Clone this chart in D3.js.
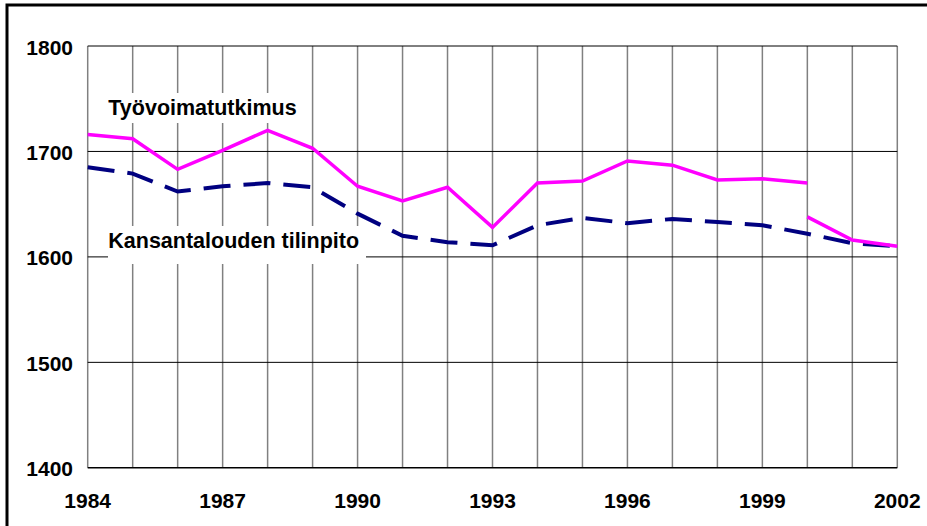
<!DOCTYPE html>
<html>
<head>
<meta charset="utf-8">
<script src="https://cdn.jsdelivr.net/npm/d3@7"></script>
<style>
  body { margin: 0; background: #fff; }
  svg text { font-family: Arial, "Liberation Sans", sans-serif; font-weight: bold; fill: #000; }
</style>
</head>
<body>
<div class="chart"></div>
<script>
let width = 927;
let height = 526;

// data
let years = d3.range(1984, 2003);
let yearTicks = [1984, 1987, 1990, 1993, 1996, 1999, 2002];
let valueTicks = [1400, 1500, 1600, 1700, 1800];
// Työvoimatutkimus, old series 1984-2000
let tyoYears = d3.range(1984, 2001);
let tyoValues = [1716, 1712, 1683, 1701, 1720, 1703, 1667, 1653, 1666, 1628, 1670, 1672, 1691, 1687, 1673, 1674, 1670];
// Työvoimatutkimus, new series 2000-2002
let tyoNewYears = [2000, 2001, 2002];
let tyoNewValues = [1638, 1616, 1610];
// Kansantalouden tilinpito 1984-2002
let ktValues = [1685, 1679, 1662, 1667, 1670, 1666, 1641, 1620, 1614, 1611, 1630, 1637, 1632, 1636, 1633, 1630, 1622, 1613, 1610];

let svg = d3.select('.chart')
  .append('svg')
  .attr('width', width)
  .attr('height', height);

// outer frame
svg.append('rect')
  .attr('x', 7)
  .attr('y', 5)
  .attr('width', 960)
  .attr('height', 560)
  .attr('fill', 'none')
  .attr('stroke', '#000')
  .attr('stroke-width', 3);

let xScale = d3.scaleLinear()
  .domain([1984, 2002])
  .range([87.7, 897.3]);
let yScale = d3.scaleLinear()
  .domain([1400, 1800])
  .range([467.8, 46]);

// vertical grid (gray)
svg.append('g')
  .selectAll('line')
  .data(years)
  .enter()
  .append('line')
  .attr('x1', d => xScale(d))
  .attr('x2', d => xScale(d))
  .attr('y1', yScale(1800))
  .attr('y2', yScale(1400))
  .attr('stroke', '#808080')
  .attr('stroke-width', 1.5);

// horizontal grid (black)
svg.append('g')
  .selectAll('line')
  .data(valueTicks)
  .enter()
  .append('line')
  .attr('x1', xScale(1984))
  .attr('x2', xScale(2002))
  .attr('y1', d => yScale(d))
  .attr('y2', d => yScale(d))
  .attr('stroke', '#000')
  .attr('stroke-width', d => d == 1400 ? 1.5 : 1);

// label boxes
svg.append('rect').attr('x', 100).attr('y', 93).attr('width', 206).attr('height', 30).attr('fill', '#fff');
svg.append('rect').attr('x', 108).attr('y', 226).attr('width', 258).attr('height', 38).attr('fill', '#fff');

let line = d3.line()
  .x(d => xScale(d[0]))
  .y(d => yScale(d[1]));

svg.append('path')
  .datum(years.map((y, i) => [y, ktValues[i]]))
  .attr('d', line)
  .attr('fill', 'none')
  .attr('stroke', '#000080')
  .attr('stroke-width', 4)
  .attr('stroke-dasharray', '27,13');

svg.append('path')
  .datum(tyoYears.map((y, i) => [y, tyoValues[i]]))
  .attr('d', line)
  .attr('fill', 'none')
  .attr('stroke', '#ff00ff')
  .attr('stroke-width', 3.5);

svg.append('path')
  .datum(tyoNewYears.map((y, i) => [y, tyoNewValues[i]]))
  .attr('d', line)
  .attr('fill', 'none')
  .attr('stroke', '#ff00ff')
  .attr('stroke-width', 3.5);

// y tick labels
svg.append('g')
  .selectAll('text')
  .data(valueTicks)
  .enter()
  .append('text')
  .attr('x', 73)
  .attr('y', d => yScale(d) + 8.5)
  .style('font-size', '21px')
  .style('text-anchor', 'end')
  .text(d => d);

// x tick labels
svg.append('g')
  .selectAll('text')
  .data(yearTicks)
  .enter()
  .append('text')
  .attr('x', d => xScale(d))
  .attr('y', 507.5)
  .style('font-size', '21px')
  .style('text-anchor', 'middle')
  .text(d => d);

svg.append('text')
  .attr('x', 108.3)
  .attr('y', 115)
  .style('font-size', '21.5px')
  .text('Työvoimatutkimus');

svg.append('text')
  .attr('x', 108.3)
  .attr('y', 247.7)
  .style('font-size', '21.5px')
  .text('Kansantalouden tilinpito');
</script>
</body>
</html>
